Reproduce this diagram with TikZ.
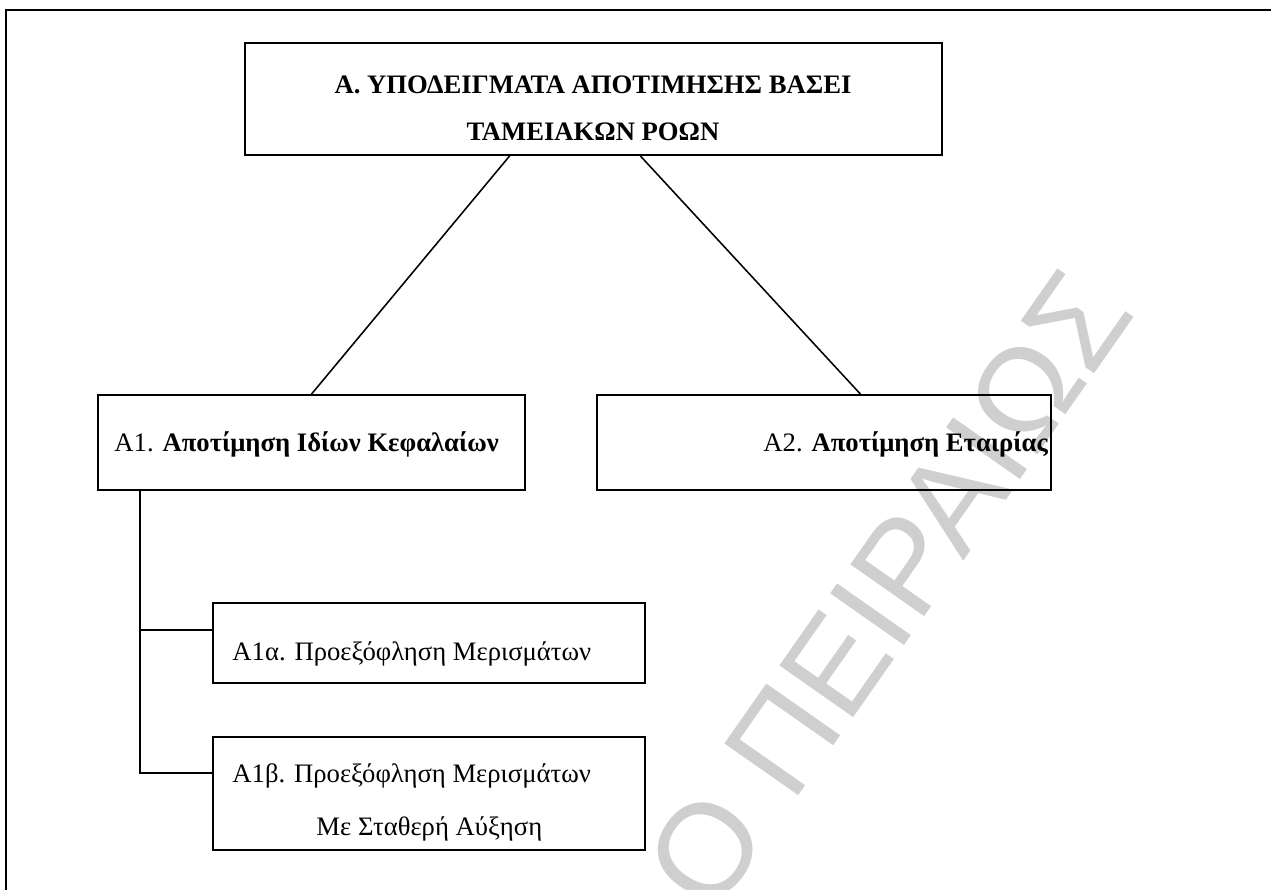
\documentclass[tikz,border=0pt]{standalone}
\usepackage{fontspec}
\setmainfont{Liberation Serif}
\newfontfamily\markfont{Liberation Sans}
\usetikzlibrary{fit,calc}

\tikzset{
  box/.style={draw, line width=0.8pt, inner sep=0pt},
  lbl/.style={font=\fontsize{12}{21}\selectfont, inner sep=0pt, anchor=base west},
  link/.style={line width=0.7pt},
}

\begin{document}
\begin{tikzpicture}[x=0.45pt, y=-0.45pt]
\useasboundingbox (0,0) rectangle (1271,890);

% watermark
\begin{scope}
\clip (0,0) rectangle (1271,890);
\node[font=\markfont\fontsize{59}{59}\selectfont, text=black!19, rotate=55, anchor=east, inner sep=0pt] (mark) at (1100,287) {Ο ΠΕΙΡΑΙΩΣ};
\end{scope}

% frame
\draw[line width=1.3pt] (6,890) -- (6,10) -- (1271,10);

% boxes
\node[box, fit={(245,43) (942,155)}] (top) {};
\node[box, fit={(98,395) (525,490)}] (a1) {};
\node[box, fit={(597,395) (1051,490)}] (a2) {};
\node[box, fit={(213,603) (645,683)}] (a1a) {};
\node[box, fit={(213,737) (645,850)}] (a1b) {};

% texts
\node[lbl, anchor=base, font=\fontsize{12}{21}\selectfont\bfseries] (ttl1) at (593,94) {Α. ΥΠΟΔΕΙΓΜΑΤΑ ΑΠΟΤΙΜΗΣΗΣ ΒΑΣΕΙ};
\node[lbl, anchor=base, font=\fontsize{12}{21}\selectfont\bfseries] (ttl2) at (593,141) {ΤΑΜΕΙΑΚΩΝ ΡΟΩΝ};
\node[lbl] (t1) at (114,451) {Α1. \textbf{Αποτίμηση Ιδίων Κεφαλαίων}};
\node[lbl] (t2) at (763,451) {Α2. \textbf{Αποτίμηση Εταιρίας}};
\node[lbl] (t1a) at (232,660) {Α1α. Προεξόφληση Μερισμάτων};
\node[lbl] (t1b) at (232,782) {Α1β. Προεξόφληση Μερισμάτων};
\node[lbl] (t1c) at (316,835) {Με Σταθερή Αύξηση};

% connectors
\draw[link] ($(top.south west)!0.38!(top.south east)$) -- (a1.north);
\draw[link] ($(top.south west)!0.567!(top.south east)$) -- ($(a2.north west)!0.58!(a2.north east)$);
\coordinate (stem) at ($(a1.south west)!0.1!(a1.south east)$);
\coordinate (j1) at ($(a1a.north west)!0.34!(a1a.south west)$);
\coordinate (j2) at ($(a1b.north west)!0.32!(a1b.south west)$);
\draw[link] (stem) |- (j2);
\draw[link] (stem |- j1) -- (j1);
\end{tikzpicture}
\end{document}
